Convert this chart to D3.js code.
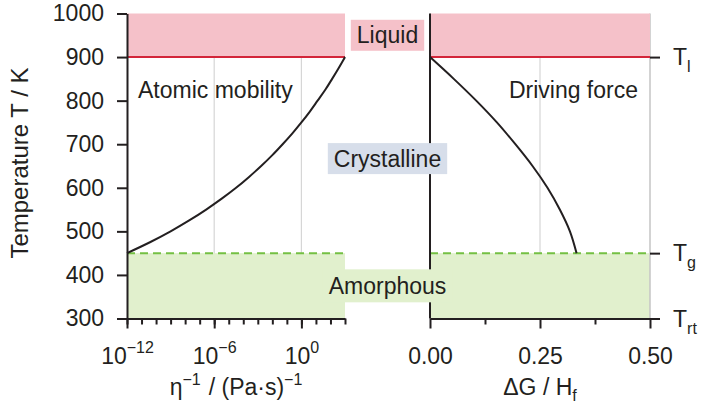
<!DOCTYPE html>
<html>
<head>
<meta charset="utf-8">
<script src="https://cdn.jsdelivr.net/npm/d3@7/dist/d3.min.js"></script>
<style>
  html, body { margin: 0; padding: 0; background: #fff; }
  svg { display: block; font-family: "Liberation Sans", Arial, Helvetica, sans-serif; }
  text { fill: #231f20; }
</style>
</head>
<body>
<svg id="chart" width="701" height="407"></svg>
<script>
// Temperature axis (K) and reference temperatures
const tempTicks = [300, 400, 500, 600, 700, 800, 900, 1000];
const refTemps = [900, 450, 300];          // liquidus, glass transition, room temperature
const refTempSubs = ["l", "g", "rt"];

// Atomic mobility, eta^-1 in (Pa·s)^-1, against temperature
const mobilityDecades = [1e-12, 1e-11, 1e-10, 1e-9, 1e-8, 1e-7, 1e-6, 1e-5, 1e-4, 1e-3, 1e-2, 1e-1, 1e0, 1e1, 1e2, 1e3];
const mobilityLabelled = [1e-12, 1e-6, 1e0];
const mobilityT =     [450,   475,    500,  525,    550,    575,    600,    625,    650,    675,  700,    725,  750, 775, 800, 825, 850, 875, 900];
const mobilityValue = [1e-12, 3.8e-11, 1e-9, 1.9e-8, 2.8e-7, 3.3e-6, 3.2e-5, 2.5e-4, 1.7e-3, 1e-2, 5.1e-2, 0.24, 1,   3.8, 13,  44,  130, 370, 1000];

// Driving force for crystallisation, dG / H_f, against temperature
const drivingTicks = [0, 0.25, 0.5];
const drivingMinor = [0.125, 0.375];
const drivingT =     [900, 850,   800,   750,   700,   650,   600,   550,   500,   450];
const drivingValue = [0,   0.054, 0.105, 0.152, 0.194, 0.233, 0.267, 0.295, 0.318, 0.333];

// Phase regions and panel captions
const phaseNames = ["Liquid", "Crystalline", "Amorphous"];
const phaseLabelT = [950, 667, 375];
const panelCaptions = ["Atomic mobility", "Driving force"];

const ink = "#231f20";
const pinkFill = "#f5c1c9";
const redLine = "#d3263a";
const greenFill = "#e1f0cd";
const greenLine = "#74c043";
const gridColor = "#d6d6d6";
const crystalFill = "#d7deea";
const FS = 23;

const svg = d3.select("#chart");

const y = d3.scaleLinear().domain([300, 1000]).range([318.5, 13.5]);
const xMob = d3.scaleLog().domain([1e-12, 1e3]).range([127, 345]);
const xDG = d3.scaleLinear().domain([0, 0.5]).range([430, 650]);

const Tmin = d3.min(tempTicks), Tmax = d3.max(tempTicks);
const Tl = refTemps[0], Tg = refTemps[1];

// light vertical grid lines
const grid = svg.append("g").attr("stroke", gridColor).attr("stroke-width", 1.2);
[1e-6, 1e0].forEach(v => grid.append("line")
  .attr("x1", xMob(v)).attr("x2", xMob(v)).attr("y1", y(Tl)).attr("y2", y(Tmin)));
grid.append("line").attr("x1", xDG(0.25)).attr("x2", xDG(0.25)).attr("y1", y(Tl)).attr("y2", y(Tmin));

// amorphous band (below Tg)
const panels = [xMob.range(), xDG.range()];
panels.forEach(r => svg.append("rect")
  .attr("x", r[0]).attr("width", r[1] - r[0])
  .attr("y", y(Tg)).attr("height", y(Tmin) - y(Tg))
  .attr("fill", greenFill));

// right-hand frame line of the driving force panel
svg.append("line")
  .attr("x1", xDG(0.5)).attr("x2", xDG(0.5)).attr("y1", y(Tmax)).attr("y2", y(Tmin))
  .attr("stroke", "#c4c4c4").attr("stroke-width", 1.5);

// liquid band (above Tl)
panels.forEach(r => svg.append("rect")
  .attr("x", r[0]).attr("width", r[1] - r[0])
  .attr("y", y(Tmax)).attr("height", y(Tl) - y(Tmax))
  .attr("fill", pinkFill));

// liquidus and glass transition lines
panels.forEach(r => {
  svg.append("line").attr("x1", r[0]).attr("x2", r[1]).attr("y1", y(Tl)).attr("y2", y(Tl))
    .attr("stroke", redLine).attr("stroke-width", 2);
  svg.append("line").attr("x1", r[0]).attr("x2", r[1]).attr("y1", y(Tg)).attr("y2", y(Tg))
    .attr("stroke", greenLine).attr("stroke-width", 2).attr("stroke-dasharray", "8,5");
});

// curves
const mobLine = d3.line().curve(d3.curveMonotoneY)
  .x((d, i) => xMob(mobilityValue[i])).y(d => y(d));
svg.append("path").attr("d", mobLine(mobilityT))
  .attr("fill", "none").attr("stroke", ink).attr("stroke-width", 2);

const dgLine = d3.line().curve(d3.curveMonotoneY)
  .x((d, i) => xDG(drivingValue[i])).y(d => y(d));
svg.append("path").attr("d", dgLine(drivingT))
  .attr("fill", "none").attr("stroke", ink).attr("stroke-width", 2);

function styleAxis(g) {
  g.selectAll("path, line").attr("stroke", ink).attr("stroke-width", 2);
  g.selectAll("text").attr("font-size", FS).attr("fill", ink)
    .attr("font-family", "Liberation Sans, Arial, sans-serif");
}

// temperature axis
svg.append("g").attr("transform", `translate(${xMob.range()[0]},0)`)
  .call(d3.axisLeft(y).tickValues(tempTicks).tickSize(10).tickSizeOuter(0).tickPadding(13)
    .tickFormat(d3.format("d")))
  .call(styleAxis);

// mobility axis: minor decade ticks, then labelled ticks
const yBase = y(Tmin);
svg.append("g").attr("transform", `translate(0,${yBase})`)
  .call(d3.axisBottom(xMob).tickValues(mobilityDecades).tickSize(6).tickSizeOuter(0).tickFormat(() => ""))
  .call(styleAxis);
svg.append("g").attr("transform", `translate(0,${yBase})`)
  .call(d3.axisBottom(xMob).tickValues(mobilityLabelled).tickSize(10).tickSizeOuter(0).tickPadding(19))
  .call(styleAxis)
  .call(g => g.select(".domain").remove())
  .selectAll(".tick text").each(function(d) {
    const t = d3.select(this).text(null);
    const e = Math.round(Math.log10(d));
    t.append("tspan").text("10");
    t.append("tspan").attr("dy", -11).attr("font-size", 16)
      .text(e < 0 ? "\u2212" + Math.abs(e) : String(e));
  });

// driving force axis
svg.append("g").attr("transform", `translate(0,${yBase})`)
  .call(d3.axisBottom(xDG).tickValues(drivingMinor).tickSize(6).tickSizeOuter(0).tickFormat(() => ""))
  .call(styleAxis);
svg.append("g").attr("transform", `translate(0,${yBase})`)
  .call(d3.axisBottom(xDG).tickValues(drivingTicks).tickSize(10).tickSizeOuter(0)
    .tickPadding(19).tickFormat(d3.format(".2f")))
  .call(styleAxis)
  .call(g => g.select(".domain").remove());

// vertical axis line of the driving force panel
svg.append("line")
  .attr("x1", xDG(0)).attr("x2", xDG(0)).attr("y1", y(Tmax)).attr("y2", y(Tmin))
  .attr("stroke", ink).attr("stroke-width", 2);

// reference temperature ticks on the right
svg.append("g").attr("transform", `translate(${xDG.range()[1]},0)`)
  .call(d3.axisRight(y).tickValues(refTemps).tickSize(10).tickFormat(() => ""))
  .call(styleAxis)
  .call(g => g.select(".domain").remove());

const refLabels = svg.append("g");
refTemps.forEach((T, i) => {
  const t = refLabels.append("text")
    .attr("x", xDG.range()[1] + 23).attr("y", y(T)).attr("dy", "0.36em")
    .attr("font-size", FS);
  t.append("tspan").text("T");
  t.append("tspan").attr("dy", 7).attr("font-size", 16).text(refTempSubs[i]);
});

// phase labels in the gap between the panels
const gapX = (xMob.range()[1] + xDG.range()[0]) / 2;
const phaseFills = [pinkFill, crystalFill, greenFill];
phaseNames.forEach((name, i) => {
  const g = svg.append("g");
  const box = g.append("rect").attr("fill", phaseFills[i]);
  const t = g.append("text")
    .attr("x", gapX).attr("y", y(phaseLabelT[i])).attr("dy", "0.35em")
    .attr("text-anchor", "middle").attr("font-size", FS).text(name);
  const bb = t.node().getBBox();
  const h = i === 2 ? 33 : 31;
  box.attr("x", bb.x - 6).attr("width", bb.width + 12)
    .attr("y", y(phaseLabelT[i]) - h / 2).attr("height", h);
});

// panel captions
svg.append("text").attr("x", 138).attr("y", y(825)).attr("dy", "0.35em")
  .attr("font-size", FS).text(panelCaptions[0]);
svg.append("text").attr("x", 638).attr("y", y(825)).attr("dy", "0.35em")
  .attr("text-anchor", "end").attr("font-size", FS).text(panelCaptions[1]);

// axis titles
svg.append("text")
  .attr("transform", `translate(28,163) rotate(-90)`)
  .attr("text-anchor", "middle").attr("font-size", 24)
  .text("Temperature T / K");

const mobTitle = svg.append("text")
  .attr("x", d3.mean(xMob.range())).attr("y", 395)
  .attr("text-anchor", "middle").attr("font-size", FS);
mobTitle.append("tspan").text("\u03b7");
mobTitle.append("tspan").attr("dy", -10).attr("font-size", 16).text("\u22121");
mobTitle.append("tspan").attr("dy", 10).attr("dx", 8).text("/ (Pa\u00b7s)");
mobTitle.append("tspan").attr("dy", -10).attr("font-size", 16).text("\u22121");

const dgTitle = svg.append("text")
  .attr("x", d3.mean(xDG.range())).attr("y", 395)
  .attr("text-anchor", "middle").attr("font-size", FS);
dgTitle.append("tspan").text("\u0394G / H");
dgTitle.append("tspan").attr("dy", 6).attr("font-size", 16).text("f");
</script>
</body>
</html>
